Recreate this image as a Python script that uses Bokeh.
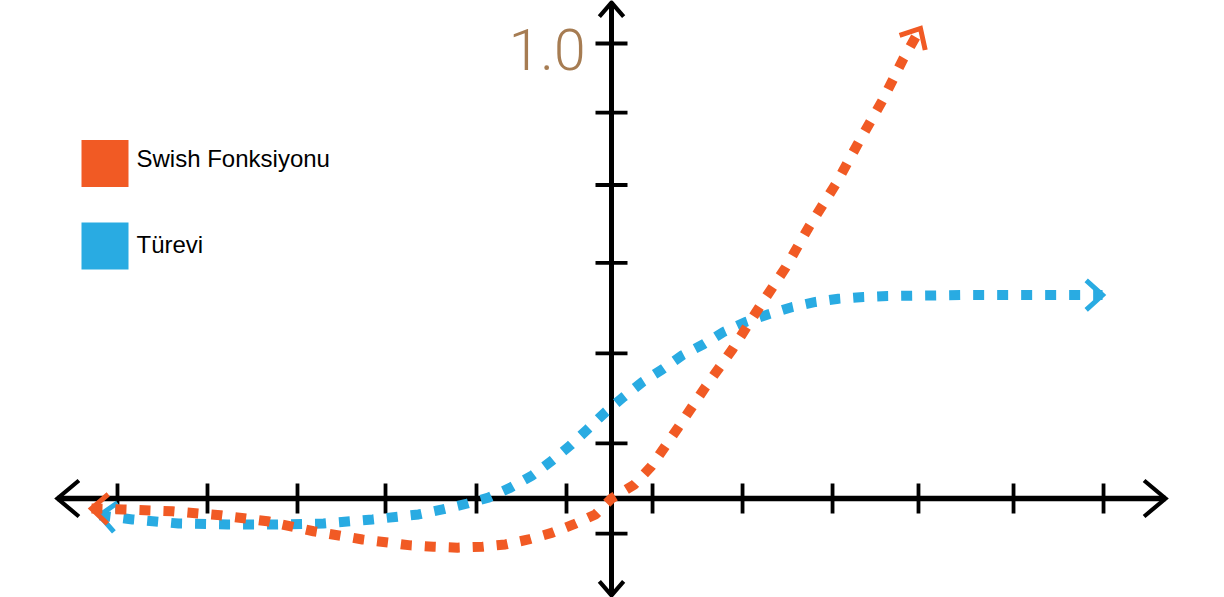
import math
from bokeh.plotting import figure
from bokeh.models import Range1d
from bokeh.core.properties import value
from bokeh.embed import file_html
from bokeh.resources import INLINE

# ---------------- data (x: tick-spacing units, y: top tick = 1.0) ----------------
swish_x = [-5.778, -5.422, -4.878, -4.344, -3.822, -3.311, -2.767, -2.233, -1.978,
           -1.711, -1.433, -1.178, -0.922, -0.656, -0.422, -0.178, 0.0, 0.256, 0.444,
           0.744, 1.044, 1.344, 1.644, 1.933, 2.200, 2.489, 2.744, 3.011, 3.244, 3.433]
swish_y = [-0.022, -0.024, -0.028, -0.037, -0.050, -0.072, -0.090, -0.103, -0.106,
           -0.108, -0.106, -0.101, -0.090, -0.075, -0.057, -0.035, 0.0, 0.031, 0.071,
           0.157, 0.245, 0.328, 0.421, 0.507, 0.599, 0.690, 0.782, 0.875, 0.967, 1.033]

deriv_x = [-5.689, -5.322, -4.811, -4.267, -3.733, -3.200, -2.656, -2.144, -1.878,
           -1.600, -1.367, -1.122, -0.878, -0.656, -0.456, -0.267, -0.067, 0.133, 0.344,
           0.567, 0.789, 1.022, 1.244, 1.489, 1.744, 2.011, 2.267, 2.522, 2.800, 3.067,
           3.878, 5.456]
deriv_y = [-0.037, -0.046, -0.055, -0.057, -0.057, -0.055, -0.046, -0.035, -0.024,
           -0.011, 0.002, 0.024, 0.051, 0.084, 0.117, 0.152, 0.190, 0.223, 0.256,
           0.284, 0.315, 0.339, 0.366, 0.388, 0.405, 0.421, 0.432, 0.439, 0.443, 0.445,
           0.447, 0.447]

x_ticks = [-5.489, -4.489, -3.489, -2.511, -1.5, -0.5, 0.456, 1.456, 2.456, 3.411, 4.467, 5.467]
y_ticks = [1.0, 0.848, 0.689, 0.518, 0.319, 0.121, -0.077]
y_label_text = "1.0"
y_label_at = 1.0

series_names = ["Swish Fonksiyonu", "Türevi"]
series_colors = ["#F15A24", "#29ABE2"]
label_color = "#A67C52"

# axis extents (arrow tips)
axis_x_ext = (-6.156, 6.156)
axis_y_ext = (-0.213, 1.090)

# ---------------- layout ----------------
W, H = 1224, 597
OFF = 0
X0 = (OFF - 611) / 90
X1 = X0 + W / 90
Y1 = (498 - OFF) / 455
Y0 = Y1 - H / 455
SX = W / (X1 - X0)
SY = H / (Y1 - Y0)


def page2data(px, py):
    return X0 + (px - OFF) / SX, Y1 - (py - OFF) / SY


def chevron(tip_x, tip_y, from_x, from_y, length, half_deg):
    dx = (tip_x - from_x) * SX
    dy = (tip_y - from_y) * SY
    n = math.hypot(dx, dy)
    ux, uy = dx / n, dy / n
    ends = []
    for s in (1, -1):
        a = math.radians(half_deg) * s
        bx = -ux * math.cos(a) + uy * math.sin(a)
        by = -ux * math.sin(a) - uy * math.cos(a)
        ends.append((tip_x + length * bx / SX, tip_y + length * by / SY))
    return ([ends[0][0], tip_x, ends[1][0]], [ends[0][1], tip_y, ends[1][1]])


p = figure(width=W, height=H, x_range=Range1d(X0, X1), y_range=Range1d(Y0, Y1),
           output_backend="svg", toolbar_location=None, min_border=0,
           x_axis_location=None, y_axis_location=None)
p.grid.visible = False
p.outline_line_color = None
p.background_fill_color = "white"
p.border_fill_color = "white"

# axes
p.segment(x0=[axis_x_ext[0]], y0=[0], x1=[axis_x_ext[1]], y1=[0], line_color="black", line_width=5.5)
p.segment(x0=[0], y0=[axis_y_ext[0]], x1=[0], y1=[axis_y_ext[1]], line_color="black", line_width=5)
th = 15 / SY
p.segment(x0=x_ticks, y0=[-th] * len(x_ticks), x1=x_ticks, y1=[th] * len(x_ticks),
          line_color="black", line_width=3.8)
tw = 16 / SX
p.segment(x0=[-tw] * len(y_ticks), y0=y_ticks, x1=[tw] * len(y_ticks), y1=y_ticks,
          line_color="black", line_width=3.8)

arrows = [chevron(axis_x_ext[0], 0, 0, 0, 28, 40), chevron(axis_x_ext[1], 0, 0, 0, 28, 40),
          chevron(0, axis_y_ext[1], 0, 0, 18.5, 41), chevron(0, axis_y_ext[0], 0, 0, 18.5, 41)]
p.multi_line(xs=[a[0] for a in arrows], ys=[a[1] for a in arrows], line_color="black",
             line_width=4.2, line_join="miter")

# curves
for xs, ys, col in [(deriv_x, deriv_y, series_colors[1]), (swish_x, swish_y, series_colors[0])]:
    p.line(xs, ys, line_color=col, line_width=10, line_dash="11 13", line_cap="butt")
    c1 = chevron(xs[0], ys[0], xs[1], ys[1], 22, 42)
    c2 = chevron(xs[-1], ys[-1], xs[-2], ys[-2], 22, 42)
    p.multi_line(xs=[c1[0], c2[0]], ys=[c1[1], c2[1]], line_color=col, line_width=5,
                 line_join="miter")

# y label
lx, _ = page2data(585, 0)
p.text(x=[lx], y=[y_label_at - 6 / SY], text=[y_label_text], text_color=label_color,
       text_font=value("Roboto Light"), text_font_size="57px", text_align="right",
       text_baseline="alphabetic")

# legend
sq_centers = [page2data(104.5, 163), page2data(104.5, 245.5)]
p.rect(x=[c[0] for c in sq_centers], y=[c[1] for c in sq_centers], width=47, height=47,
       width_units="screen", height_units="screen", fill_color=series_colors,
       line_color=None)
txt_pos = [page2data(136, 158), page2data(136, 244)]
p.text(x=[t[0] for t in txt_pos], y=[t[1] for t in txt_pos], text=series_names,
       text_color="black", text_font=value("Liberation Sans"), text_font_size="24px",
       text_align="left", text_baseline="alphabetic")

open("out.html", "w").write(file_html(p, INLINE))
